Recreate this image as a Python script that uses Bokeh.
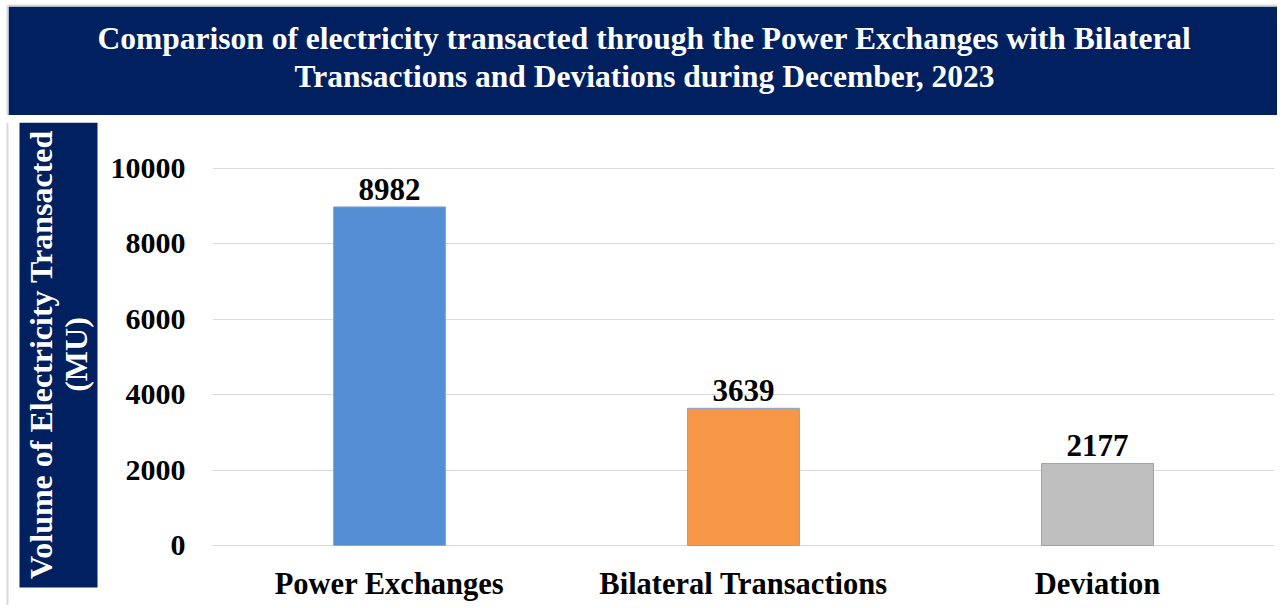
from math import pi
from bokeh.plotting import figure
from bokeh.models import ColumnDataSource, Range1d, FactorRange, Label, LabelSet
from bokeh.layouts import column, row
from bokeh.embed import file_html
from bokeh.resources import INLINE

categories = ["Power Exchanges", "Bilateral Transactions", "Deviation"]
values = [8982, 3639, 2177]
colors = ["#558ED5", "#F79646", "#BFBFBF"]
y_ticks = [0, 2000, 4000, 6000, 8000, 10000]
title_lines = ["Comparison of electricity transacted through the Power Exchanges with Bilateral",
               "Transactions and Deviations during December, 2023"]
ylabel_lines = ["Volume of Electricity Transacted", "(MU)"]

NAVY = "#002060"
BORDER = "#D9D9D9"
FONT = "Liberation Serif"

# page geometry (pixels)
TOTAL_W = 1277
TITLE_H = 115
LOW_H = 490
BAND_W = 100
FRAME_TOP, FRAME_BOT = 122, TITLE_H + LOW_H   # shared frame of band and main chart
BAND_BOT = 587
Y0_PX, YMAX_PX = 545, 168              # where 0 and 10000 sit
YMAX = 10000
px_per_unit = (Y0_PX - YMAX_PX) / YMAX
y_start = -(FRAME_BOT - Y0_PX) / px_per_unit
y_end = YMAX + (YMAX_PX - FRAME_TOP) / px_per_unit


def blank(w, h, **kw):
    f = figure(width=w, height=h, output_backend="svg", toolbar_location=None,
               x_axis_type=None, y_axis_type=None, **kw)
    f.grid.visible = False
    f.outline_line_color = None
    f.background_fill_color = "white"
    f.border_fill_color = "white"
    return f


# ---- title banner ----
pt = blank(TOTAL_W, TITLE_H, min_border=0, x_range=Range1d(0, TOTAL_W), y_range=Range1d(0, TITLE_H))
pt.quad(left=8, right=TOTAL_W, bottom=0, top=TITLE_H - 6, fill_color=NAVY, line_color=None)
pt.segment(x0=7, y0=0, x1=7, y1=TITLE_H - 5, line_color=BORDER, line_width=2)
pt.segment(x0=7, y0=TITLE_H - 5, x1=TOTAL_W, y1=TITLE_H - 5, line_color=BORDER, line_width=2)
for t, yc in zip(title_lines, [38, 76]):
    pt.add_layout(Label(x=644, y=TITLE_H - yc, text=t, text_align="center", text_baseline="middle",
                        text_font=FONT, text_font_size="31.5px", text_font_style="bold",
                        text_color="white"))

# ---- y-axis label band (its frame is aligned with the main frame) ----
fh = FRAME_BOT - FRAME_TOP
pb = blank(BAND_W, LOW_H, min_border_left=0, min_border_right=0,
           min_border_top=FRAME_TOP - TITLE_H, min_border_bottom=0,
           x_range=Range1d(0, BAND_W), y_range=Range1d(0, fh))
pb.quad(left=19, right=97, bottom=FRAME_BOT - BAND_BOT, top=fh, fill_color=NAVY, line_color=None)
pb.segment(x0=7, y0=0, x1=7, y1=fh, line_color=BORDER, line_width=2)
for t, xc in zip(ylabel_lines, [40, 75]):
    pb.add_layout(Label(x=xc, y=FRAME_BOT - 354, text=t, angle=pi / 2,
                        text_align="center", text_baseline="middle", text_font=FONT,
                        text_font_size="32px", text_font_style="bold", text_color="white"))

# ---- main chart ----
p = figure(width=TOTAL_W - BAND_W, height=LOW_H, x_range=FactorRange(*categories),
           y_range=Range1d(y_start, y_end), output_backend="svg", toolbar_location=None,
           min_border_left=212 - BAND_W, min_border_right=TOTAL_W - 1274,
           min_border_top=FRAME_TOP - TITLE_H, min_border_bottom=0)
p.outline_line_color = None
p.background_fill_color = "white"
p.border_fill_color = "white"

src = ColumnDataSource(dict(cat=categories, val=values, color=colors, lbl=[str(v) for v in values],
                            zero=[0] * len(values)))
p.vbar(x="cat", bottom=0, top="val", width=0.316, fill_color="color", line_color="#7EA6DC",
       line_width=1, source=src)
p.add_layout(LabelSet(x="cat", y="val", text="lbl", source=src, y_offset=7, text_align="center",
                      text_baseline="alphabetic", text_font=FONT, text_font_size="31px",
                      text_font_style="bold", text_color="black"))
# category labels under the baseline
p.add_layout(LabelSet(x="cat", y="zero", text="cat", source=src, y_offset=-48, text_align="center",
                      text_baseline="alphabetic", text_font=FONT, text_font_size="30.5px",
                      text_font_style="bold", text_color="black"))

p.xaxis.visible = False
p.xgrid.grid_line_color = None
p.ygrid.grid_line_color = "#D9D9D9"
p.ygrid.grid_line_width = 1
p.yaxis.ticker = y_ticks
ax = p.yaxis[0]
ax.axis_line_color = None
ax.major_tick_line_color = None
ax.minor_tick_line_color = None
ax.major_tick_out = 0
ax.major_tick_in = 0
ax.minor_tick_out = 0
ax.major_label_text_font = FONT
ax.major_label_text_font_style = "bold"
ax.major_label_text_color = "black"
ax.major_label_text_font_size = "30px"
ax.major_label_standoff = 27

layout = column(pt, row(pb, p))
open("out.html", "w").write(file_html(layout, INLINE))
